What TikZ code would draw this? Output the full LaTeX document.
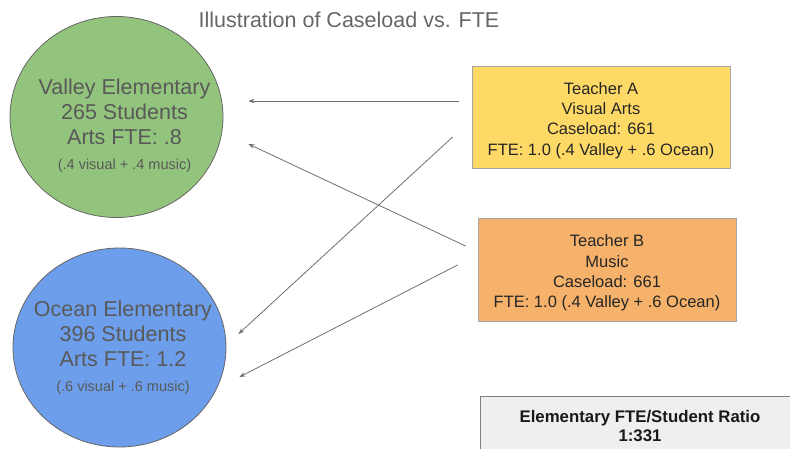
\documentclass[tikz,border=0pt]{standalone}
\usepackage{fontspec}
\setmainfont{Liberation Sans}
\usetikzlibrary{shapes.geometric,arrows.meta}
\definecolor{vgreen}{HTML}{93C47D}
\definecolor{oblue}{HTML}{6D9EEB}
\definecolor{tyellow}{HTML}{FFD966}
\definecolor{torange}{HTML}{F6B26B}
\definecolor{rgray}{HTML}{EFEFEF}
\definecolor{txtgray}{HTML}{595959}
\definecolor{titlegray}{HTML}{666666}
\definecolor{linegray}{HTML}{6E6E6E}
\newcommand\topstrut{\rule{0pt}{19pt}}
\tikzset{
  school/.style={ellipse, draw=black!60, line width=0.8pt, minimum width=213pt, minimum height=201pt, inner sep=0pt},
  schooltxt/.style={align=center, text=txtgray, font=\fontsize{21.5}{25}\selectfont},
  teacher/.style={rectangle, draw=black!35, line width=0.8pt, minimum width=258pt, minimum height=102pt, align=center, text=black!85, font=\fontsize{16.5}{20.3}\selectfont, inner sep=0pt},
  conn/.style={draw=linegray, line width=0.8pt, -{Stealth[length=6pt,width=4.5pt]}}
}
\begin{document}
\begin{tikzpicture}[x=1pt,y=-1pt]
\useasboundingbox (0,0) rectangle (790,449);
\clip (0,0) rectangle (790,449);
\node[text=titlegray, font=\fontsize{21.5}{25}\selectfont] (title) at (349,20) {Illustration of Caseload vs. FTE};
% schools
\node[school, fill=vgreen] (valley) at (116.5,117) {};
\node[schooltxt] (valleytxt) at (124.5,126) {Valley Elementary\\265 Students\\Arts FTE: .8\\{\fontsize{14.5}{18}\selectfont(.4 visual + .4 music)}};
\node[school, fill=oblue, minimum height=199pt] (ocean) at (119.5,347.5) {};
\node[schooltxt] (oceantxt) at (123,348) {Ocean Elementary\\396 Students\\Arts FTE: 1.2\\{\fontsize{14.5}{18}\selectfont(.6 visual + .6 music)}};
% teachers
\node[teacher, fill=tyellow] (ta) at (601,117) {\topstrut Teacher A\\Visual Arts\\Caseload: 661\\FTE: 1.0 (.4 Valley + .6 Ocean)};
\node[teacher, fill=torange, minimum height=103pt] (tb) at (607,269.5) {\topstrut Teacher B\\Music\\Caseload: 661\\FTE: 1.0 (.4 Valley + .6 Ocean)};
% ratio box
\node[rectangle, draw=black!50, line width=0.8pt, fill=rgray, minimum width=320pt, minimum height=70pt, inner sep=0pt, anchor=north west] (ratio) at (480,396) {};
\node[align=center, text=black!90, font=\bfseries\fontsize{16.8}{19}\selectfont] (ratiotxt) at (640,426.5) {Elementary FTE/Student Ratio\\1:331};
% connectors
\draw[conn] ([shift={(-13,-16)}]ta.west) -- ([shift={(25,-16)}]valley.east);
\draw[conn] ([shift={(-19,20)}]ta.west) -- ([shift={(12,-13.5)}]ocean.east);
\draw[conn] ([shift={(-12,-23.5)}]tb.west) -- ([shift={(25,27)}]valley.east);
\draw[conn] ([shift={(-20,-4.5)}]tb.west) -- ([shift={(13,29.5)}]ocean.east);
\end{tikzpicture}
\end{document}
